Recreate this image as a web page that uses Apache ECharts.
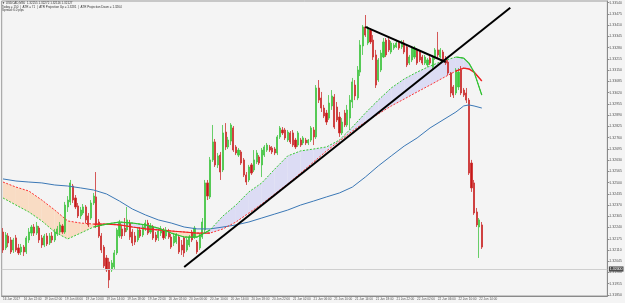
<!DOCTYPE html>
<html>
<head>
<meta charset="utf-8">
<script src="https://cdn.jsdelivr.net/npm/echarts@6/dist/echarts.min.js"></script>
<style>
html, body { margin: 0; padding: 0; background: #f4f4f4; }
#chart { width: 625px; height: 303px; }
</style>
</head>
<body>
<div id="chart"></div>
<script>
const symbolName = 'USDCAD,M30'
const infoLine = 'Today = 150  |  ATR = 71  |  ATR Projection Up = 1.3281  |  ATR Projection Down = 1.3264'
const spreadLine = 'Spread: 6.0 pips'

// one time label every 8 bars
const xLabels = ['16 Jun 2017', '16 Jun 22:00', '19 Jun 02:00', '19 Jun 06:00', '19 Jun 10:00', '19 Jun 14:00',
  '19 Jun 18:00', '19 Jun 22:00', '20 Jun 02:00', '20 Jun 06:00', '20 Jun 10:00', '20 Jun 14:00',
  '20 Jun 18:00', '20 Jun 22:00', '21 Jun 02:00', '21 Jun 06:00', '21 Jun 10:00', '21 Jun 14:00',
  '21 Jun 18:00', '21 Jun 22:00', '22 Jun 02:00', '22 Jun 06:00', '22 Jun 10:00', '22 Jun 14:00']

const yTicks = [1.3354, 1.33475, 1.3341, 1.33345, 1.3328, 1.33215, 1.3315, 1.33085, 1.3302, 1.32955, 1.3289,
  1.32825, 1.3276, 1.32695, 1.3263, 1.32565, 1.325, 1.32435, 1.3237, 1.32305, 1.3224, 1.32175, 1.3211,
  1.32045, 1.3198, 1.31915, 1.3185]

const open = [1.32214,1.32122,1.32191,1.32168,1.32110,1.32180,1.32122,1.32099,1.32127,1.32099,
  1.32168,1.32208,1.32243,1.32208,1.32237,1.32180,1.32139,1.32191,1.32151,1.32191,
  1.32168,1.32203,1.32214,1.32249,1.32214,1.32359,1.32388,1.32480,1.32411,1.32365,
  1.32307,1.32324,1.32359,1.32307,1.32295,1.32382,1.32417,1.32272,1.32191,1.32127,
  1.32064,1.32041,1.31995,1.32012,1.32093,1.32191,1.32232,1.32237,1.32226,1.32266,
  1.32214,1.32191,1.32168,1.32226,1.32197,1.32232,1.32266,1.32214,1.32243,1.32197,
  1.32180,1.32208,1.32226,1.32191,1.32214,1.32185,1.32151,1.32156,1.32185,1.32139,
  1.32180,1.32110,1.32139,1.32214,1.32185,1.32156,1.32122,1.32185,1.32226,1.32498,
  1.32417,1.32631,1.32735,1.32602,1.32659,1.32573,1.32792,1.32706,1.32740,1.32816,
  1.32706,1.32659,1.32677,1.32631,1.32544,1.32515,1.32602,1.32573,1.32619,1.32648,
  1.32602,1.32659,1.32688,1.32706,1.32700,1.32694,1.32671,1.32764,1.32804,1.32804,
  1.32746,1.32787,1.32787,1.32746,1.32717,1.32746,1.32729,1.32746,1.32729,1.32746,
  1.32804,1.32764,1.33047,1.32989,1.32931,1.32902,1.32873,1.32943,1.32995,1.32937,
  1.32879,1.32787,1.32902,1.32833,1.32873,1.32966,1.33064,1.32989,1.33139,1.33290,
  1.33400,1.33307,1.33382,1.33324,1.33238,1.33093,1.33151,1.33226,1.33324,1.33324,
  1.33255,1.33278,1.33284,1.33307,1.33284,1.33307,1.33284,1.33191,1.33209,1.33226,
  1.33267,1.33255,1.33226,1.33191,1.33180,1.33220,1.33168,1.33220,1.33267,1.33226,
  1.33255,1.33220,1.33197,1.33134,1.33053,1.33018,1.33053,1.33151,1.33035,1.33018,
  1.32977,1.32613,1.32498,1.32330,1.32243,1.32255]
const high = [1.32237,1.32214,1.32208,1.32185,1.32180,1.32197,1.32145,1.32145,1.32139,1.32191,
  1.32237,1.32255,1.32260,1.32272,1.32249,1.32197,1.32203,1.32208,1.32208,1.32214,
  1.32232,1.32249,1.32272,1.32260,1.32388,1.32422,1.32515,1.32492,1.32428,1.32382,
  1.32359,1.32376,1.32370,1.32324,1.32399,1.32440,1.32561,1.32289,1.32208,1.32139,
  1.32081,1.32064,1.32052,1.32110,1.32237,1.32284,1.32249,1.32295,1.32359,1.32284,
  1.32232,1.32214,1.32243,1.32243,1.32260,1.32284,1.32284,1.32266,1.32255,1.32214,
  1.32232,1.32249,1.32237,1.32243,1.32232,1.32203,1.32208,1.32208,1.32197,1.32168,
  1.32191,1.32180,1.32197,1.32226,1.32249,1.32168,1.32208,1.32295,1.32515,1.32515,
  1.32648,1.32833,1.32752,1.32671,1.32677,1.32833,1.32844,1.32764,1.32844,1.32827,
  1.32717,1.32700,1.32688,1.32642,1.32561,1.32602,1.32613,1.32688,1.32688,1.32659,
  1.32700,1.32717,1.32729,1.32717,1.32711,1.32706,1.32775,1.32827,1.32821,1.32816,
  1.32804,1.32798,1.32804,1.32758,1.32798,1.32758,1.32769,1.32758,1.32752,1.32827,
  1.32821,1.33064,1.33093,1.33024,1.32949,1.32920,1.33006,1.33035,1.33012,1.32966,
  1.32908,1.32873,1.32920,1.32949,1.33006,1.33105,1.33093,1.33174,1.33324,1.33411,
  1.33469,1.33405,1.33394,1.33353,1.33267,1.33220,1.33267,1.33336,1.33336,1.33336,
  1.33319,1.33307,1.33319,1.33319,1.33324,1.33324,1.33295,1.33238,1.33290,1.33290,
  1.33278,1.33267,1.33238,1.33238,1.33220,1.33232,1.33238,1.33278,1.33371,1.33278,
  1.33267,1.33232,1.33209,1.33139,1.33064,1.33162,1.33162,1.33174,1.33047,1.33047,
  1.32989,1.32631,1.32515,1.32353,1.32295,1.32272]
const low = [1.32093,1.32110,1.32127,1.32087,1.32093,1.32099,1.32081,1.32081,1.32075,1.32087,
  1.32151,1.32191,1.32191,1.32197,1.32151,1.32122,1.32127,1.32133,1.32139,1.32151,
  1.32156,1.32191,1.32203,1.32203,1.32203,1.32330,1.32370,1.32382,1.32347,1.32295,
  1.32289,1.32313,1.32266,1.32243,1.32284,1.32370,1.32237,1.32180,1.32093,1.32006,
  1.31983,1.31890,1.31983,1.32000,1.32081,1.32180,1.32174,1.32191,1.32214,1.32168,
  1.32133,1.32139,1.32156,1.32180,1.32185,1.32220,1.32197,1.32203,1.32168,1.32156,
  1.32162,1.32191,1.32168,1.32174,1.32174,1.32116,1.32133,1.32145,1.32087,1.32081,
  1.32070,1.32099,1.32127,1.32156,1.32174,1.32087,1.32110,1.32174,1.32208,1.32399,
  1.32405,1.32619,1.32590,1.32584,1.32515,1.32561,1.32688,1.32694,1.32717,1.32677,
  1.32659,1.32648,1.32602,1.32532,1.32486,1.32503,1.32544,1.32561,1.32607,1.32602,
  1.32532,1.32648,1.32677,1.32677,1.32665,1.32659,1.32659,1.32752,1.32775,1.32746,
  1.32735,1.32723,1.32706,1.32694,1.32706,1.32706,1.32717,1.32717,1.32717,1.32735,
  1.32717,1.32752,1.32960,1.32908,1.32873,1.32833,1.32862,1.32920,1.32810,1.32850,
  1.32764,1.32775,1.32821,1.32821,1.32804,1.32931,1.32977,1.32977,1.33116,1.33238,
  1.33342,1.33295,1.33301,1.33209,1.33047,1.33082,1.33139,1.33220,1.33226,1.33255,
  1.33243,1.33267,1.33278,1.33267,1.33272,1.33243,1.33168,1.33180,1.33197,1.33215,
  1.33180,1.33197,1.33180,1.33180,1.33168,1.33180,1.33157,1.33209,1.33220,1.33220,
  1.33197,1.33180,1.33122,1.32995,1.32989,1.33006,1.33035,1.33006,1.32995,1.32960,
  1.32544,1.32446,1.32313,1.32243,1.32064,1.32116]
const close = [1.32110,1.32197,1.32151,1.32099,1.32168,1.32110,1.32093,1.32127,1.32099,1.32180,
  1.32214,1.32243,1.32208,1.32249,1.32168,1.32139,1.32191,1.32145,1.32191,1.32168,
  1.32214,1.32232,1.32255,1.32214,1.32370,1.32399,1.32498,1.32399,1.32359,1.32307,
  1.32341,1.32359,1.32284,1.32255,1.32382,1.32422,1.32255,1.32191,1.32110,1.32018,
  1.31995,1.31937,1.32035,1.32093,1.32226,1.32266,1.32191,1.32214,1.32284,1.32185,
  1.32151,1.32156,1.32226,1.32191,1.32243,1.32266,1.32208,1.32249,1.32180,1.32168,
  1.32220,1.32232,1.32180,1.32226,1.32185,1.32127,1.32191,1.32197,1.32099,1.32110,
  1.32093,1.32168,1.32185,1.32168,1.32237,1.32099,1.32197,1.32272,1.32498,1.32422,
  1.32631,1.32735,1.32602,1.32654,1.32561,1.32787,1.32706,1.32746,1.32833,1.32688,
  1.32671,1.32688,1.32613,1.32544,1.32503,1.32590,1.32555,1.32631,1.32671,1.32613,
  1.32688,1.32706,1.32717,1.32688,1.32677,1.32671,1.32764,1.32816,1.32787,1.32758,
  1.32792,1.32735,1.32717,1.32706,1.32787,1.32717,1.32758,1.32729,1.32746,1.32816,
  1.32764,1.33047,1.32977,1.32931,1.32885,1.32850,1.32960,1.33001,1.32821,1.32862,
  1.32787,1.32850,1.32833,1.32920,1.32977,1.33082,1.33001,1.33151,1.33295,1.33400,
  1.33353,1.33394,1.33313,1.33226,1.33064,1.33209,1.33249,1.33313,1.33238,1.33267,
  1.33307,1.33295,1.33307,1.33278,1.33313,1.33255,1.33180,1.33226,1.33278,1.33278,
  1.33191,1.33209,1.33191,1.33226,1.33209,1.33191,1.33226,1.33267,1.33238,1.33267,
  1.33209,1.33191,1.33134,1.33018,1.33006,1.33151,1.33139,1.33018,1.33006,1.32977,
  1.32555,1.32469,1.32324,1.32255,1.32284,1.32127]

// moving averages read every 5 bars (denser near the end)
const maBars = [0,5,10,15,20,25,30,35,40,45,50,55,60,65,70,75,80,85,90,95,100,105,110,115,120,
  125,130,135,140,145,150,155,160,165,170,175,178,180,182,185]
const maSlow = [1.32521,1.32509,1.32503,1.32498,1.32486,1.32480,1.32469,1.32457,1.32434,1.32393,
  1.32347,1.32313,1.32284,1.32266,1.32243,1.32232,1.32232,1.32243,1.32255,1.32272,
  1.32295,1.32318,1.32341,1.32370,1.32393,1.32417,1.32440,1.32474,1.32532,1.32596,
  1.32654,1.32711,1.32758,1.32816,1.32862,1.32908,1.32943,1.32949,1.32943,1.32931]
const maRed = [1.32503,1.32474,1.32451,1.32399,1.32341,1.32278,1.32266,1.32260,1.32260,1.32255,
  1.32243,1.32232,1.32226,1.32220,1.32214,1.32208,1.32208,1.32232,1.32272,1.32324,
  1.32376,1.32434,1.32492,1.32555,1.32619,1.32683,1.32740,1.32798,1.32850,1.32897,
  1.32943,1.32983,1.33024,1.33064,1.33105,1.33145,1.33162,1.33157,1.33139,1.33087]
const maGreen = [1.32411,1.32370,1.32330,1.32278,1.32214,1.32174,1.32208,1.32243,1.32260,1.32272,
  1.32266,1.32255,1.32237,1.32208,1.32185,1.32185,1.32226,1.32307,1.32370,1.32446,
  1.32498,1.32578,1.32654,1.32683,1.32694,1.32706,1.32746,1.32821,1.32902,1.32977,
  1.33047,1.33099,1.33139,1.33174,1.33203,1.33226,1.33220,1.33191,1.33139,1.33006]

const trendUp = [[70, 1.32012], [196, 1.33511]]
const trendDown = [[140, 1.33400], [171, 1.33197]]

const slots = 234
const cats = Array.from({ length: slots }, (_, i) => String(i))
const candles = open.map((o, i) => [o, close[i], low[i], high[i]])
const last = open.length - 1
const head = '\u25BC ' + symbolName + '  ' + [open[last], high[last], low[last], close[last]].map(v => v.toFixed(5)).join(' ')

const fillData = []
for (let k = 0; k < maBars.length - 1; k++) {
  if (maBars[k + 1] > 182) break
  fillData.push([maBars[k], maRed[k], maGreen[k], maBars[k + 1], maRed[k + 1], maGreen[k + 1]])
}
const lav = '#dcdcf4'
const org = '#f9dcc4'

const maLine = (vals, color, from, to, dash, width) => ({
  type: 'line',
  data: maBars.map((b, k) => [b, vals[k]]).filter(p => p[0] >= from && p[0] <= to),
  symbol: 'none',
  silent: true,
  z: 3,
  lineStyle: { color: color, width: width, type: dash }
})

const txt = { fontFamily: 'Liberation Sans', fill: '#333', fontSize: 3 }

const myChart = echarts.init(document.getElementById('chart'))
myChart.setOption({
  animation: false,
  backgroundColor: '#f4f4f4',
  grid: { left: 1, right: 14, top: 1, bottom: 7, show: true, backgroundColor: '#f4f4f4', borderColor: '#9a9a9a', borderWidth: 1 },
  xAxis: {
    type: 'category',
    data: cats,
    boundaryGap: true,
    axisLine: { lineStyle: { color: '#8a8a8a', width: 1 } },
    axisTick: {
      alignWithLabel: true,
      length: 2,
      interval: i => i % 8 === 0 && i <= last,
      lineStyle: { color: '#8a8a8a' }
    },
    axisLabel: {
      interval: i => i % 8 === 0 && i <= last,
      formatter: (v, i) => xLabels[i / 8] || '',
      align: 'left',
      margin: 1.5,
      fontSize: 3.1,
      fontFamily: 'Liberation Sans',
      color: '#555'
    },
    splitLine: { show: false }
  },
  yAxis: {
    type: 'value',
    position: 'right',
    min: 1.31844,
    max: 1.3355,
    axisLine: { show: true, lineStyle: { color: '#8a8a8a', width: 1 } },
    axisTick: { show: true, length: 2, customValues: yTicks, lineStyle: { color: '#8a8a8a' } },
    axisLabel: {
      customValues: yTicks,
      formatter: v => v.toFixed(5),
      margin: 2,
      fontSize: 3.5,
      fontFamily: 'Liberation Sans',
      color: '#555'
    },
    splitLine: { show: false }
  },
  graphic: [
    { type: 'text', x: 2, y: 1.6, z: 100, style: Object.assign({ text: head }, txt) },
    { type: 'text', x: 2, y: 5.3, z: 100, style: Object.assign({ text: infoLine }, txt) },
    { type: 'text', x: 2, y: 9, z: 100, style: Object.assign({ text: spreadLine }, txt) }
  ],
  series: [
    {
      type: 'custom',
      data: fillData,
      encode: { x: [0, 3], y: [1, 2, 4, 5] },
      silent: true,
      clip: true,
      z: 1,
      renderItem: (params, api) => {
        const r0 = api.coord([api.value(0), api.value(1)])
        const g0 = api.coord([api.value(0), api.value(2)])
        const r1 = api.coord([api.value(3), api.value(4)])
        const g1 = api.coord([api.value(3), api.value(5)])
        const d0 = api.value(2) - api.value(1)
        const d1 = api.value(5) - api.value(4)
        const col = d => (d >= 0 ? lav : org)
        if (d0 * d1 >= 0) {
          return { type: 'polygon', shape: { points: [r0, r1, g1, g0] }, style: { fill: col(d0 + d1) } }
        }
        const t = d0 / (d0 - d1)
        const m = [r0[0] + t * (r1[0] - r0[0]), r0[1] + t * (r1[1] - r0[1])]
        return {
          type: 'group',
          children: [
            { type: 'polygon', shape: { points: [r0, m, g0] }, style: { fill: col(d0) } },
            { type: 'polygon', shape: { points: [m, r1, g1] }, style: { fill: col(d1) } }
          ]
        }
      }
    },
    maLine(maSlow, '#3b78b6', 0, 185, 'solid', 1),
    maLine(maRed, '#ff3030', 0, 185, [2, 1.5], 1),
    maLine(maRed, '#ee2222', 35, 80, 'solid', 1.2),
    maLine(maRed, '#ee2222', 175, 185, 'solid', 1.4),
    maLine(maGreen, '#36c836', 0, 185, [2, 1.5], 1),
    maLine(maGreen, '#30c030', 35, 80, 'solid', 1.2),
    maLine(maGreen, '#30c030', 175, 185, 'solid', 1.2),
    {
      type: 'candlestick',
      data: candles,
      barWidth: 1.6,
      z: 2,
      itemStyle: {
        color: '#3acc3a',
        color0: '#c81818',
        borderColor: '#44c444',
        borderColor0: '#cc3030',
        borderWidth: 0.8
      },
      markLine: {
        symbol: 'none',
        silent: true,
        data: [{ yAxis: close[last] }],
        lineStyle: { color: '#cfcfcf', width: 1, type: 'solid' },
        label: {
          position: 'end',
          distance: 1.5,
          formatter: p => Number(p.value).toFixed(5),
          color: '#fff',
          backgroundColor: '#4d4d4d',
          fontSize: 3.5,
          fontFamily: 'Liberation Sans',
          padding: [0.6, 1]
        }
      }
    },
    {
      type: 'line',
      data: trendUp,
      symbol: 'none',
      silent: true,
      z: 5,
      lineStyle: { color: '#000', width: 2 }
    },
    {
      type: 'line',
      data: trendDown,
      symbol: 'none',
      silent: true,
      z: 5,
      lineStyle: { color: '#000', width: 2 }
    }
  ]
})
</script>
</body>
</html>
